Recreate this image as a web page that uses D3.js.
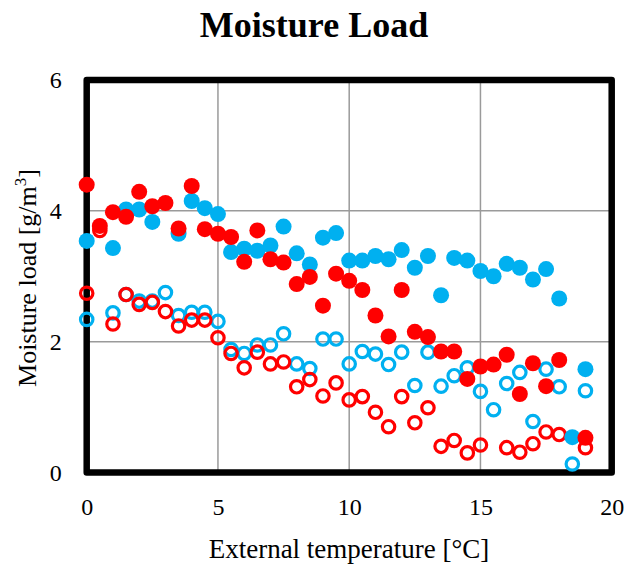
<!DOCTYPE html>
<html>
<head>
<meta charset="utf-8">
<script src="https://cdn.jsdelivr.net/npm/d3@7"></script>
<style>
  body { margin: 0; background: #fff; }
  svg text { font-family: "Liberation Serif", "DejaVu Serif", serif; fill: #000; }
</style>
</head>
<body>
<svg id="chart"></svg>
<script>
// external temperature [°C]
var temps = [0, 0.5, 1, 1.5, 2, 2.5, 3, 3.5, 4, 4.5, 5, 5.5, 6, 6.5, 7, 7.5, 8, 8.5, 9, 9.5,
  10, 10.5, 11, 11.5, 12, 12.5, 13, 13.5, 14, 14.5, 15, 15.5, 16, 16.5, 17, 17.5, 18, 18.5, 19];

// moisture load [g/m3], null = no point
var blueFilled = [3.54, null, 3.43, 4.02, 4.02, 3.83, null, 3.65, 4.15, 4.04, 3.95, 3.37, 3.42, 3.39, 3.47, 3.76, 3.35, 3.18, 3.59, 3.66,
  3.24, 3.24, 3.31, 3.26, 3.40, 3.13, 3.31, 2.71, 3.28, 3.24, 3.08, 3.00, 3.19, 3.13, 2.95, 3.11, 2.66, 0.54, 1.58];
var redFilled = [4.40, 3.77, 3.98, 3.91, 4.29, 4.07, 4.12, 3.73, 4.38, 3.72, 3.65, 3.60, 3.22, 3.70, 3.26, 3.21, 2.88, 2.99, 2.55, 3.04,
  2.93, 2.79, 2.40, 2.08, 2.79, 2.15, 2.07, 1.85, 1.85, 1.43, 1.62, 1.65, 1.80, 1.20, 1.67, 1.32, 1.72, null, 0.53];
var blueOpen = [2.34, null, 2.44, 2.72, 2.62, 2.62, 2.75, 2.40, 2.45, 2.45, 2.31, 1.88, 1.82, 1.95, 1.95, 2.12, 1.66, 1.59, 2.04, 2.04,
  1.66, 1.85, 1.81, 1.65, 1.84, 1.33, 1.84, 1.32, 1.48, 1.60, 1.24, 0.96, 1.36, 1.53, 0.78, 1.58, 1.31, 0.13, 1.25];
var redOpen = [2.74, 3.70, 2.27, 2.72, 2.57, 2.60, 2.46, 2.24, 2.33, 2.33, 2.06, 1.82, 1.60, 1.84, 1.66, 1.69, 1.31, 1.42, 1.17, 1.37,
  1.11, 1.16, 0.92, 0.70, 1.16, 0.76, 0.99, 0.40, 0.49, 0.30, 0.42, null, 0.38, 0.31, 0.44, 0.62, 0.58, null, 0.38];

var xTicks = [0, 5, 10, 15, 20];
var yTicks = [0, 2, 4, 6];

var width = 625;
var height = 565;
var margin = {top: 80, right: 13.3, bottom: 92.5, left: 86.7};
var blue = "#00b0f0";
var red = "#ff0000";

var svg = d3.select("#chart").attr("width", width).attr("height", height);

var x = d3.scaleLinear().domain([0, 20]).range([margin.left, width - margin.right]);
var y = d3.scaleLinear().domain([0, 6]).range([height - margin.bottom, margin.top]);

// gridlines
svg.append("g")
  .selectAll("line")
  .data(xTicks.slice(1, -1))
  .enter()
  .append("line")
  .attr("x1", d => x(d)).attr("x2", d => x(d))
  .attr("y1", y(0)).attr("y2", y(6))
  .attr("stroke", "#9a9a9a")
  .attr("stroke-width", 1.5);

svg.append("g")
  .selectAll("line")
  .data(yTicks.slice(1, -1))
  .enter()
  .append("line")
  .attr("x1", x(0)).attr("x2", x(20))
  .attr("y1", d => y(d)).attr("y2", d => y(d))
  .attr("stroke", "#9a9a9a")
  .attr("stroke-width", 1.5);

// plot frame
svg.append("rect")
  .attr("x", x(0))
  .attr("y", y(6))
  .attr("width", x(20) - x(0))
  .attr("height", y(0) - y(6))
  .attr("fill", "none")
  .attr("stroke", "#000")
  .attr("stroke-width", 6.5)
  .attr("stroke-linejoin", "round");

// axes, labels only
var xAxis = svg.append("g")
  .attr("transform", "translate(0," + y(0) + ")")
  .call(d3.axisBottom(x).tickValues(xTicks).tickFormat(d3.format("d")).tickSize(0).tickPadding(25));
var yAxis = svg.append("g")
  .attr("transform", "translate(" + x(0) + ",0)")
  .call(d3.axisLeft(y).tickValues(yTicks).tickFormat(d3.format("d")).tickSize(0).tickPadding(25));

[xAxis, yAxis].forEach(function (a) {
  a.attr("font-family", "Liberation Serif, serif").attr("font-size", 24);
  a.select(".domain").remove();
  a.selectAll("text").attr("fill", "#000");
});

function points(values, color, filled) {
  var pts = temps.map(function (t, i) { return {t: t, v: values[i]}; })
    .filter(function (d) { return d.v != null; });
  svg.append("g")
    .selectAll("circle")
    .data(pts)
    .enter()
    .append("circle")
    .attr("cx", d => x(d.t))
    .attr("cy", d => y(d.v))
    .attr("r", filled ? 8 : 6.2)
    .attr("fill", filled ? color : "none")
    .attr("stroke", filled ? "none" : color)
    .attr("stroke-width", filled ? 0 : 3.2);
}

points(blueOpen, blue, false);
points(redOpen, red, false);
points(blueFilled, blue, true);
points(redFilled, red, true);

// title
svg.append("text")
  .attr("x", 314)
  .attr("y", 37)
  .attr("text-anchor", "middle")
  .style("font-size", "36px")
  .style("font-weight", "bold")
  .text("Moisture Load");

// axis titles
svg.append("text")
  .attr("x", 349)
  .attr("y", 558)
  .attr("text-anchor", "middle")
  .style("font-size", "27px")
  .text("External temperature [°C]");

var yTitle = svg.append("text")
  .attr("transform", "translate(36,278) rotate(-90)")
  .attr("text-anchor", "middle")
  .style("font-size", "26px");
yTitle.append("tspan").text("Moisture load [g/m");
yTitle.append("tspan").attr("dy", -10).style("font-size", "17px").text("3");
yTitle.append("tspan").attr("dy", 10).text("]");
</script>
</body>
</html>
